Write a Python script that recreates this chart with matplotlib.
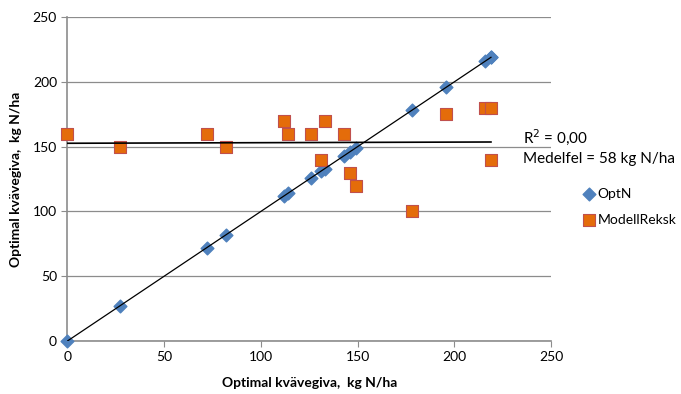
import numpy as np
import matplotlib
matplotlib.use("Agg")
import matplotlib.pyplot as plt

# observed optimal N rate (x) and the two series
opt_x = [0, 27, 72, 82, 112, 114, 126, 131, 133, 143, 146, 149, 178, 196, 216, 219, 219]
opt_n = [0, 27, 72, 82, 112, 114, 126, 131, 133, 143, 146, 149, 178, 196, 216, 219, 219]
modell = [160, 150, 160, 150, 170, 160, 160, 140, 170, 160, 130, 120, 100, 175, 180, 180, 140]

xticks = [0, 50, 100, 150, 200, 250]
yticks = [0, 50, 100, 150, 200, 250]

plt.rcParams['font.family'] = ['Lato', 'DejaVu Sans']

fig = plt.figure(figsize=(6.81, 3.94), dpi=100, facecolor='w')
ax = fig.add_axes([0.099, 0.1345, 0.71, 0.822])

ax.scatter(opt_x, opt_n, marker='D', s=42, color='#4F81BD', edgecolor='#4F81BD',
           zorder=3, label='OptN', clip_on=False)
ax.scatter(opt_x, modell, marker='s', s=85, color='#E46C0A', edgecolor='#C0504D',
           linewidth=0.8, zorder=3, label='ModellReksk', clip_on=False)

# trend lines
xs = np.array([min(opt_x), max(opt_x)])
p1 = np.polyfit(opt_x, opt_n, 1)
ax.plot(xs, np.polyval(p1, xs), color='black', lw=0.9, zorder=4)
p2 = np.polyfit(opt_x, modell, 1)
ax.plot(xs, np.polyval(p2, xs), color='black', lw=1.2, zorder=4)

ax.set_xlim(0, 250)
ax.set_ylim(0, 250)
ax.set_xticks(xticks)
ax.set_yticks(yticks)
ax.yaxis.grid(True, color='#8c8c8c', lw=0.9)
ax.set_axisbelow(True)
for s in ['top', 'right']:
    ax.spines[s].set_visible(False)
for s in ['left', 'bottom']:
    ax.spines[s].set_color('#8c8c8c')
    ax.spines[s].set_linewidth(1.2)
ax.tick_params(axis='both', colors='#8c8c8c', labelcolor='black', labelsize=10, length=4, direction='out')

ax.set_xlabel('Optimal kvävegiva,  kg N/ha', fontsize=10, fontweight='bold', labelpad=10)
ax.set_ylabel('Optimal kvävegiva,  kg N/ha', fontsize=10, fontweight='bold', labelpad=8)

fig.text(0.768, 0.652, 'R$^2$ = 0,00', fontsize=11, va='center')
fig.text(0.768, 0.597, 'Medelfel = 58 kg N/ha', fontsize=11, va='center')

fig.legend(loc='upper left', bbox_to_anchor=(0.837, 0.555), frameon=False, fontsize=10,
           handletextpad=0.1, labelspacing=1.0, handlelength=1.0)

plt.savefig('out.png', dpi=100)
plt.close()
